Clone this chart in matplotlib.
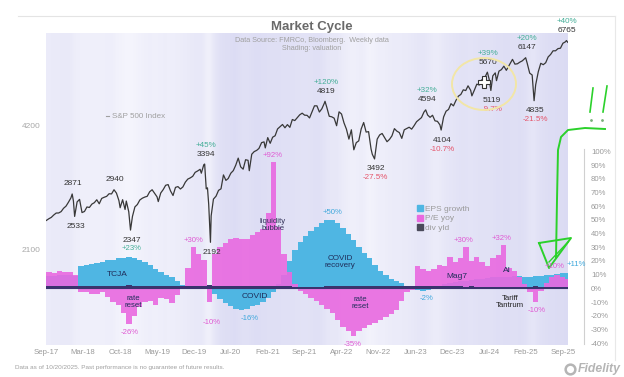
import numpy as np
import pandas as pd
import matplotlib
matplotlib.use('Agg')
import matplotlib.pyplot as plt
import matplotlib.dates as mdates
from matplotlib.colors import LinearSegmentedColormap, Normalize
from matplotlib.lines import Line2D
from matplotlib.patches import Ellipse

plt.rcParams['font.family'] = ['Liberation Sans', 'DejaVu Sans']

# S&P 500, about two points a month plus the marked highs and lows
spx_dates = [
    '2017-09-01', '2017-09-15', '2017-09-29', '2017-10-13', '2017-10-27', '2017-11-10', '2017-11-24',
    '2017-12-08', '2017-12-22', '2018-01-05', '2018-01-19', '2018-01-26', '2018-02-02', '2018-02-09',
    '2018-02-23', '2018-03-09', '2018-03-23', '2018-04-06', '2018-04-20', '2018-05-04', '2018-05-18',
    '2018-06-01', '2018-06-15', '2018-06-29', '2018-07-13', '2018-07-27', '2018-08-10', '2018-08-24',
    '2018-09-07', '2018-09-21', '2018-10-05', '2018-10-19', '2018-10-26', '2018-11-09', '2018-11-23',
    '2018-11-30', '2018-12-14', '2018-12-24', '2019-01-04', '2019-01-18', '2019-02-01', '2019-02-15',
    '2019-03-01', '2019-03-15', '2019-03-29', '2019-04-12', '2019-04-26', '2019-05-10', '2019-05-24',
    '2019-05-31', '2019-06-14', '2019-06-28', '2019-07-12', '2019-07-26', '2019-08-09', '2019-08-23',
    '2019-09-06', '2019-09-20', '2019-10-04', '2019-10-18', '2019-11-01', '2019-11-15', '2019-11-29',
    '2019-12-13', '2019-12-27', '2020-01-10', '2020-01-24', '2020-01-31', '2020-02-14', '2020-02-19',
    '2020-02-28', '2020-03-06', '2020-03-13', '2020-03-23', '2020-03-27', '2020-04-09', '2020-04-24',
    '2020-05-08', '2020-05-22', '2020-06-05', '2020-06-19', '2020-07-02', '2020-07-17', '2020-07-31',
    '2020-08-14', '2020-08-28', '2020-09-11', '2020-09-25', '2020-10-09', '2020-10-23', '2020-10-30',
    '2020-11-13', '2020-11-27', '2020-12-11', '2020-12-24', '2021-01-08', '2021-01-22', '2021-01-29',
    '2021-02-12', '2021-02-26', '2021-03-12', '2021-03-26', '2021-04-09', '2021-04-23', '2021-05-07',
    '2021-05-21', '2021-06-04', '2021-06-18', '2021-07-02', '2021-07-16', '2021-07-30', '2021-08-13',
    '2021-08-27', '2021-09-10', '2021-09-24', '2021-10-08', '2021-10-22', '2021-11-05', '2021-11-19',
    '2021-12-03', '2021-12-17', '2021-12-31', '2022-01-04', '2022-01-14', '2022-01-28', '2022-02-11',
    '2022-02-25', '2022-03-11', '2022-03-25', '2022-04-08', '2022-04-22', '2022-05-06', '2022-05-20',
    '2022-06-03', '2022-06-17', '2022-07-01', '2022-07-15', '2022-07-29', '2022-08-12', '2022-08-26',
    '2022-09-09', '2022-09-23', '2022-09-30', '2022-10-13', '2022-10-28', '2022-11-11', '2022-11-25',
    '2022-12-09', '2022-12-23', '2023-01-06', '2023-01-20', '2023-02-03', '2023-02-17', '2023-03-03',
    '2023-03-17', '2023-03-31', '2023-04-14', '2023-04-28', '2023-05-12', '2023-05-26', '2023-06-09',
    '2023-06-23', '2023-07-07', '2023-07-21', '2023-07-31', '2023-08-11', '2023-08-25', '2023-09-08',
    '2023-09-22', '2023-10-06', '2023-10-20', '2023-10-27', '2023-11-10', '2023-11-24', '2023-12-08',
    '2023-12-22', '2024-01-05', '2024-01-19', '2024-02-02', '2024-02-16', '2024-03-01', '2024-03-15',
    '2024-03-28', '2024-04-12', '2024-04-19', '2024-05-03', '2024-05-17', '2024-05-31', '2024-06-14',
    '2024-06-28', '2024-07-16', '2024-07-26', '2024-08-05', '2024-08-16', '2024-08-30', '2024-09-06',
    '2024-09-20', '2024-10-04', '2024-10-18', '2024-11-01', '2024-11-15', '2024-12-06', '2024-12-20',
    '2025-01-03', '2025-01-17', '2025-01-31', '2025-02-19', '2025-02-28', '2025-03-14', '2025-03-28',
    '2025-04-04', '2025-04-08', '2025-04-17', '2025-05-02', '2025-05-16', '2025-05-30', '2025-06-13',
    '2025-06-27', '2025-07-11', '2025-07-25', '2025-08-08', '2025-08-22', '2025-09-05', '2025-09-19',
    '2025-10-03', '2025-10-09', '2025-10-17',
]
spx_values = [
    2477, 2500, 2519, 2553, 2581, 2582, 2602,
    2651, 2683, 2743, 2810, 2871, 2762, 2533,
    2747, 2786, 2588, 2604, 2670, 2663, 2713,
    2735, 2780, 2718, 2801, 2819, 2833, 2875,
    2872, 2940, 2885, 2767, 2659, 2781, 2633,
    2760, 2600, 2347, 2532, 2671, 2707, 2776,
    2804, 2822, 2834, 2907, 2940, 2881, 2826,
    2752, 2887, 2942, 3014, 3026, 2919, 2847,
    2979, 2992, 2952, 2986, 3067, 3120, 3141,
    3169, 3240, 3265, 3295, 3225, 3380, 3394,
    2954, 2972, 2711, 2192, 2541, 2790, 2837,
    2930, 2955, 3194, 3098, 3130, 3225, 3271,
    3373, 3508, 3341, 3298, 3477, 3465, 3270,
    3585, 3638, 3663, 3703, 3825, 3841, 3714,
    3934, 3811, 3943, 3975, 4129, 4180, 4233,
    4156, 4230, 4166, 4352, 4327, 4395, 4468,
    4509, 4459, 4455, 4391, 4545, 4698, 4698,
    4538, 4621, 4766, 4819, 4663, 4432, 4419,
    4385, 4204, 4543, 4488, 4272, 4123, 3901,
    4109, 3675, 3825, 3863, 4130, 4280, 4058,
    4067, 3693, 3586, 3492, 3901, 3993, 4026,
    3934, 3845, 3895, 3973, 4136, 4079, 4046,
    3917, 4109, 4138, 4169, 4124, 4205, 4299,
    4348, 4399, 4536, 4594, 4464, 4406, 4457,
    4320, 4308, 4224, 4104, 4415, 4559, 4604,
    4755, 4697, 4840, 4959, 5006, 5137, 5117,
    5254, 5123, 4967, 5128, 5303, 5278, 5432,
    5460, 5670, 5459, 5119, 5554, 5648, 5408,
    5703, 5751, 5864, 5729, 5870, 6090, 5930,
    5942, 5997, 6041, 6147, 5955, 5639, 5581,
    5074, 4835, 5283, 5687, 5958, 5912, 5977,
    6173, 6260, 6389, 6389, 6467, 6482, 6664,
    6716, 6765, 6700,
]

# monthly bars, Sep-2017 .. Oct-2025 (%)
months = pd.date_range('2017-09-01', '2025-10-01', freq='MS')
eps_growth = [
    9, 9, 10, 10, 10, 9,
    16, 17, 18, 18.5, 19.5, 20.5,
    21, 22, 22.5, 23, 22.5, 21,
    19, 17, 14, 12, 10, 8,
    5.5, 2.5, 1, 0.5, 0.5, 1,
    0, -4, -8, -11, -13, -15,
    -16, -15, -13, -12, -10, -7,
    -3, 3, 10, 20, 28, 34,
    38, 42, 45, 48, 50, 50,
    48, 44, 40, 35, 30, 26,
    22, 17, 13, 10, 7, 5,
    4, 2, 1, -1, -2, -1,
    0.5, 2, 3, 4, 4.5, 5,
    5.5, 6, 6.5, 7, 7.5, 8,
    8, 8.5, 8.5, 9, 9, 8.5,
    8.5, 9, 9, 9.5, 10, 10.5,
    11, 11,
]
pe_yoy = [
    12, 11, 13, 12, 12, 10,
    -3, -3, -4, -4, -3, -6,
    -10, -12, -18, -26, -20, -14,
    -10, -9, -12, -7, -8, -11,
    -5, 2, 15, 30, 25, 21,
    -10, 25, 30, 33, 36, 37,
    36, 36, 39, 41, 43, 55,
    92, 45, 25, 12, 3, -2,
    -4, -7, -9, -12, -15, -18,
    -23, -28, -31, -35, -31, -29,
    -27, -25, -23, -21, -19, -16,
    -9, -3, -1, 16, 14, 13,
    14, 17, 16, 23, 19, 22,
    30, 20, 23, 19, 16, 22,
    24, 32, 15, 13, 8, 3,
    -3, -10, -2, 4, 8, 10,
    8, 7,
]
div_yld = [
    1.9, 1.9, 1.9, 1.8,
    1.8, 1.9, 1.9, 1.9, 1.9, 1.9, 1.8, 1.8, 1.8, 1.9, 1.9, 2.1,
    2.0, 1.9, 1.9, 1.9, 1.9, 1.9, 1.9, 1.9, 1.9, 1.9, 1.8, 1.8,
    1.8, 1.8, 2.2, 2.0, 1.9, 1.9, 1.8, 1.7, 1.7, 1.7, 1.6, 1.6,
    1.5, 1.5, 1.5, 1.4, 1.4, 1.4, 1.3, 1.3, 1.3, 1.3, 1.3, 1.3,
    1.4, 1.4, 1.4, 1.5, 1.6, 1.7, 1.6, 1.6, 1.7, 1.7, 1.6, 1.7,
    1.6, 1.6, 1.6, 1.6, 1.6, 1.5, 1.5, 1.5, 1.5, 1.6, 1.5, 1.4,
    1.4, 1.4, 1.3, 1.4, 1.3, 1.3, 1.3, 1.3, 1.3, 1.2, 1.2, 1.2,
    1.3, 1.3, 1.3, 1.4, 1.3, 1.3, 1.2, 1.2, 1.2, 1.2,
]
# valuation (fwd P/E) for the background shading
fwd_pe = [
    17.8, 18.0, 18.2, 18.3,
    18.5, 16.8, 16.5, 16.2, 16.4, 16.3, 16.5, 16.6, 16.8, 15.5, 15.3, 14.4,
    15.0, 15.8, 16.3, 16.8, 16.2, 16.8, 17.1, 16.6, 17.0, 17.3, 18.0, 18.4,
    18.7, 18.9, 15.0, 19.0, 21.0, 21.8, 22.0, 22.8, 21.5, 21.0, 21.8, 22.5,
    22.0, 21.8, 21.5, 22.0, 21.0, 21.3, 21.2, 21.0, 20.3, 20.8, 21.4, 21.3,
    19.8, 18.8, 19.5, 17.8, 17.2, 15.9, 16.8, 17.4, 15.2, 15.8, 16.8, 16.7,
    17.5, 17.6, 17.8, 18.0, 18.4, 19.1, 19.5, 19.0, 18.0, 17.3, 18.7, 19.5,
    19.8, 20.5, 21.0, 20.1, 20.6, 21.0, 20.8, 20.9, 21.5, 21.6, 22.2, 21.5,
    21.8, 21.9, 20.5, 19.0, 21.0, 21.8, 22.2, 22.4, 22.7, 22.8,
]

# marked turning points (peak, trough, peak, ...)
turn_dates = ['2018-01-26', '2018-02-09', '2018-09-21', '2018-12-24', '2020-02-19', '2020-03-23',
              '2022-01-04', '2022-10-13', '2023-07-31', '2023-10-27', '2024-07-16', '2024-08-05',
              '2025-02-19', '2025-04-08', '2025-10-09']
turn_moves = ['', '', '', '', '+45%', '', '+120%', '-27.5%', '+32%', '-10.7%', '+39%', '-9.7%',
              '+20%', '-21.5%', '+40%']

x_ticks = pd.date_range('2017-09-01', periods=15, freq='30W-FRI')

BLUE = '#4fb6e3'
PINK = '#e969e0'
NAVY = '#3a336e'
GREY = '#9a9a9a'
UP = '#45ae98'
DOWN = '#e5566c'

W, H = 624, 377
def fx(x):
    return x / W
def fy(y):
    return 1 - y / H

fig = plt.figure(figsize=(6.24, 3.77), dpi=100)
fig.patch.set_facecolor('white')

# plot area (percent axis), S&P on a log twin
ax = fig.add_axes([fx(46), fy(345), (568 - 46) / W, (345 - 33) / H])
ax_s = ax.twinx()

x0 = mdates.date2num(pd.Timestamp('2017-08-30'))
x1 = mdates.date2num(pd.Timestamp('2025-10-18'))
p_lo, p_hi = -41.4, 186.5

# valuation shading
shade = LinearSegmentedColormap.from_list('val', [(0.98, 0.98, 0.997), (0.86, 0.86, 0.955)])
m_num = mdates.date2num(months)
ax.imshow(np.array(fwd_pe)[None, :], cmap=shade, norm=Normalize(13, 23), aspect='auto',
          interpolation='bicubic', extent=[m_num[0] - 2, x1, p_lo, p_hi], zorder=0)

ends = list(months[1:]) + [pd.Timestamp('2025-10-18')]
widths = [(e - s).days for s, e in zip(months, ends)]
ax.bar(m_num, eps_growth, width=widths, align='edge', color=BLUE, linewidth=0, zorder=2)
ax.bar(m_num, pe_yoy, width=widths, align='edge', color=PINK, alpha=0.9, linewidth=0, zorder=3)
ax.bar(m_num, div_yld, width=widths, align='edge', color=NAVY, linewidth=0, zorder=4)
ax.axhline(0, color=NAVY, lw=0.8, zorder=4)

ax.set_xlim(x0, x1)
ax.set_ylim(p_lo, p_hi)
ax.yaxis.tick_right()
ax.set_yticks(range(-40, 101, 10))
ax.set_yticklabels([f'{v}%' for v in range(-40, 101, 10)])
ax.tick_params(axis='y', length=0, pad=5, labelsize=5.6, labelcolor=GREY)
ax.set_xticks(mdates.date2num(x_ticks))
ax.set_xticklabels([d.strftime('%b-%y') for d in x_ticks])
ax.tick_params(axis='x', length=0, pad=3, labelsize=5.6, labelcolor=GREY)
for s in ['top', 'left', 'bottom']:
    ax.spines[s].set_visible(False)
ax.spines['right'].set_position(('outward', 11.5))
ax.spines['right'].set_bounds(-41, 102)
ax.spines['right'].set_color('#d0d0d0')
ax.spines['right'].set_linewidth(0.8)

# S&P 500 line
spx_x = mdates.date2num(pd.to_datetime(spx_dates))
ax_s.plot(spx_x, spx_values, color='#383838', lw=0.9, zorder=5)
ax_s.set_yscale('log')
ax_s.set_ylim(1235, 7057)
ax_s.set_xlim(x0, x1)
ax_s.yaxis.tick_left()
ax_s.set_yticks([2100, 4200])
ax_s.set_yticklabels(['2100', '4200'])
ax_s.yaxis.set_minor_locator(matplotlib.ticker.NullLocator())
ax_s.tick_params(axis='y', length=0, pad=4, labelsize=6, labelcolor='#a8a8a8')
for s in ax_s.spines.values():
    s.set_visible(False)

# turning point labels
spx_lookup = dict(zip(spx_dates, spx_values))
for i, (d, mv) in enumerate(zip(turn_dates, turn_moves)):
    v = spx_lookup[d]
    sign = 1 if i % 2 == 0 else -1
    xd = mdates.date2num(pd.Timestamp(d))
    ax_s.annotate(f'{v}', (xd, v), xytext=(1, 10 * sign), textcoords='offset pixels',
                  ha='center', va='center', fontsize=6, color='#333333', zorder=6)
    if mv:
        ax_s.annotate(mv, (xd, v), xytext=(1, 19 * sign), textcoords='offset pixels',
                      ha='center', va='center', fontsize=5.8, zorder=6,
                      color=UP if mv.startswith('+') else DOWN)

# bar annotations
def note(x, y, s, color, size=6, **kw):
    fig.text(fx(x), fy(y), s, ha='center', va='center', fontsize=size, color=color,
             linespacing=0.95, **kw)

note(117, 275, 'TCJA', '#1f2d5a')
note(133, 302, 'rate\nreset', '#1f2d5a', 5.6)
note(130, 333, '-26%', '#df5ad3', 5.6)
note(132, 249, '+23%', UP, 5.6)
note(193, 240, '+30%', '#df5ad3', 5.6)
note(212, 323, '-10%', '#df5ad3', 5.6)
note(255, 297, 'COVID', '#1f2d5a')
note(250, 318, '-16%', '#3fa8dc', 5.6)
note(273, 225, 'liquidity\nbubble', '#33335a', 5.6)
note(273, 156, '+92%', '#df5ad3', 5.6)
note(332, 213, '+50%', '#3fa8dc', 5.6)
note(340, 262, 'COVID\nrecovery', '#1f2d5a', 5.8)
note(360, 303, 'rate\nreset', '#1f2d5a', 5.6)
note(353, 344, '-35%', '#df5ad3', 5.6)
note(427, 298, '-2%', '#3fa8dc', 5.6)
note(463, 240, '+30%', '#df5ad3', 5.6)
note(502, 238, '+32%', '#df5ad3', 5.6)
note(457, 277, 'Mag7', '#1f2d5a')
note(507, 271, 'AI', '#1f2d5a')
note(510, 302, 'Tariff\nTantrum', '#222222', 5.6)
note(537, 310, '-10%', '#df5ad3', 5.6)
note(555, 266, '+10%', '#df5ad3', 5.6)
note(576, 265, '+11%', '#3fa8dc', 5.6)

# legend
handles = [Line2D([], [], marker='s', ls='', ms=4, color=c) for c in (BLUE, PINK, '#4a4a5a')]
fig.legend(handles, ['EPS growth', 'P/E yoy', 'div yld'], loc='upper left',
           bbox_to_anchor=(fx(412), fy(201)), frameon=False, fontsize=6, labelcolor=GREY,
           handlelength=0.8, handletextpad=0.3, labelspacing=0.2, borderpad=0)

# titles and notes
fig.text(fx(312), fy(27), 'Market Cycle', ha='center', va='center', fontsize=9.5,
         fontweight='bold', color='#6a6a6a')
fig.text(fx(312), fy(40), 'Data Source: FMRCo, Bloomberg.  Weekly data', ha='center',
         va='center', fontsize=5.2, color='#a0a0a0')
fig.text(fx(312), fy(49), 'Shading: valuation', ha='center', va='center', fontsize=5.2,
         color='#a0a0a0')
fig.text(fx(112), fy(116), 'S&P 500 Index', ha='left', va='center', fontsize=5.8, color='#a0a0a0')
fig.add_artist(Line2D([fx(106), fx(109)], [fy(116), fy(116)], color='#a0a0a0', lw=0.8))
fig.text(fx(15), fy(368), 'Data as of 10/20/2025. Past performance is no guarantee of future results.',
         ha='left', va='center', fontsize=4.6, color='#a0a0a0')
fig.text(fx(578), fy(369), 'Fidelity', ha='left', va='center', fontsize=8.8, fontweight='bold',
         fontstyle='italic', color='#b5b5b5')
fig.add_artist(Line2D([fx(570)], [fy(369)], marker='o', ms=7, mfc='none', mec='#b5b5b5', mew=1.8))

# panel frame
fig.add_artist(Line2D([fx(18), fx(615)], [fy(16), fy(16)], color='#e4e4e4', lw=0.8))
fig.add_artist(Line2D([fx(615), fx(615)], [fy(16), fy(360)], color='#e8e8e8', lw=0.8))

# screenshot markup: yellow circle, cursor, green arrow
fig.add_artist(Ellipse((fx(484), fy(84)), 64 / W, 52 / H, fill=False, ec='#f2e6a6', lw=1.4))
fig.add_artist(Line2D([fx(484)], [fy(82)], marker='P', ms=9, mfc='white', mec='#333333', mew=0.8))
green = '#2bd12b'
gx = [605, 585, 568, 561, 558, 557, 556]
gy = [129, 128, 130, 137, 150, 200, 258]
fig.add_artist(Line2D([fx(v) for v in gx], [fy(v) for v in gy], color=green, lw=1.4))
tri_x = [539, 571, 549, 539]
tri_y = [243, 238, 268, 243]
fig.add_artist(Line2D([fx(v) for v in tri_x], [fy(v) for v in tri_y], color=green, lw=1.4))
fig.add_artist(Line2D([fx(549), fx(568)], [fy(262), fy(242)], color=green, lw=1.0))
fig.add_artist(Line2D([fx(593), fx(590)], [fy(88), fy(112)], color=green, lw=1.2))
fig.add_artist(Line2D([fx(607), fx(603)], [fy(86), fy(112)], color=green, lw=1.2))
fig.add_artist(Line2D([fx(591), fx(602)], [fy(120), fy(120)], ls='', marker='.', ms=2, color='#7ab07a'))

fig.savefig('out.png', dpi=100)
